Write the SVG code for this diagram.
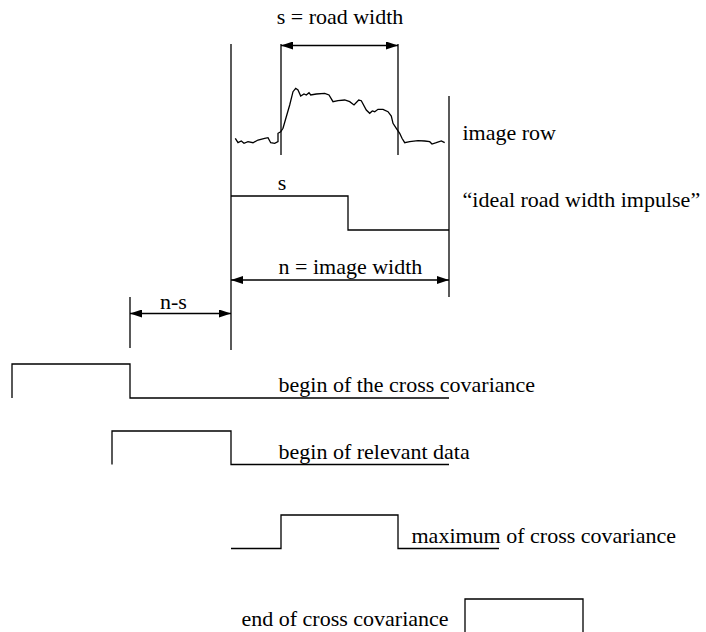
<svg xmlns="http://www.w3.org/2000/svg" width="706" height="632" viewBox="0 0 706 632">
<style>
text{font-family:"Liberation Serif","Times New Roman",serif;font-size:22px;fill:#000}
.ln{fill:none;stroke:#000;stroke-width:1.3}
.ar{fill:none;stroke:#000;stroke-width:1.5}
</style>
<defs>
<marker id="ah" viewBox="0 0 12 8" refX="12" refY="4" markerWidth="12" markerHeight="8" markerUnits="userSpaceOnUse" orient="auto-start-reverse">
<path d="M0,0 L12,4 L0,8 Z" fill="#000"/>
</marker>
</defs>
<rect width="706" height="632" fill="#fff"/>
<g id="frame">
<line class="ln" x1="231" y1="44" x2="231" y2="350"/>
<line class="ln" x1="449" y1="96" x2="449" y2="297"/>
<line class="ln" x1="281" y1="44" x2="281" y2="155"/>
<line class="ln" x1="398" y1="44" x2="398" y2="155"/>
<line class="ln" x1="130" y1="297" x2="130" y2="348"/>
</g>
<g id="image-row">
<path class="ln" d="M235.3,138.3 L238,142.7 L241.3,141 L244,143.3 L248,141.7 L253,142.7 L258,140 L264.7,138.3 L268,137.7 L270.7,142.7 L274.7,143.3 L278,141.7 L278,133.3 L280.7,131.7 L283,128.3 L286.3,116.7 L289.7,105 L293,91.7 L295.7,88.3 L298,90 L300.7,96 L304,94 L306.3,95 L309,92.7 L310.7,95 L316.3,94 L324.7,93.3 L329,95 L333,101.7 L338,100.7 L344.7,100 L349.7,101.7 L354,105 L358.7,100 L361.3,100.7 L366.3,110 L369.7,113.3 L372.3,111 L374.7,111.7 L378,109.3 L383,109.3 L388,111.7 L391.3,116 L393,123.3 L396.3,128.3 L399.7,133.3 L402,138.3 L404.7,142.7 L409.7,141.7 L418,140.7 L424.7,141 L429.7,141.7 L432,144 L436.3,142.7 L441.3,141 L444.7,142.7"/>
<text x="462.5" y="139.5">image row</text>
</g>
<g id="impulse">
<path class="ln" d="M231,196 H348 V230 H449"/>
<text x="282" y="190" text-anchor="middle">s</text>
<text x="462.5" y="207">“ideal road width impulse”</text>
</g>
<g id="connectors">
<line class="ar" x1="281" y1="45.5" x2="398" y2="45.5" marker-start="url(#ah)" marker-end="url(#ah)"/>
<line class="ar" x1="231" y1="280" x2="449" y2="280" marker-start="url(#ah)" marker-end="url(#ah)"/>
<line class="ar" x1="130" y1="313.5" x2="231" y2="313.5" marker-start="url(#ah)" marker-end="url(#ah)"/>
</g>
<g id="labels">
<text x="340" y="23.5" text-anchor="middle">s = road width</text>
<text x="278.5" y="273.5">n = image width</text>
<text x="160" y="308.5">n-s</text>
</g>
<g id="begin-cross">
<path class="ln" d="M12,398 V364 H130 V398 H449"/>
<text x="278.5" y="391.5">begin of the cross covariance</text>
</g>
<g id="begin-relevant">
<path class="ln" d="M112,464.5 V431 H231 V464.5 H449"/>
<text x="278.5" y="458.5">begin of relevant data</text>
</g>
<g id="maximum">
<path class="ln" d="M231,548.5 H281 V515 H398 V548.5 H499"/>
<text x="411.5" y="542.5">maximum of cross covariance</text>
</g>
<g id="end">
<path class="ln" d="M465,632 V599 H583 V632"/>
<text x="241.5" y="626">end of cross covariance</text>
</g>
</svg>
